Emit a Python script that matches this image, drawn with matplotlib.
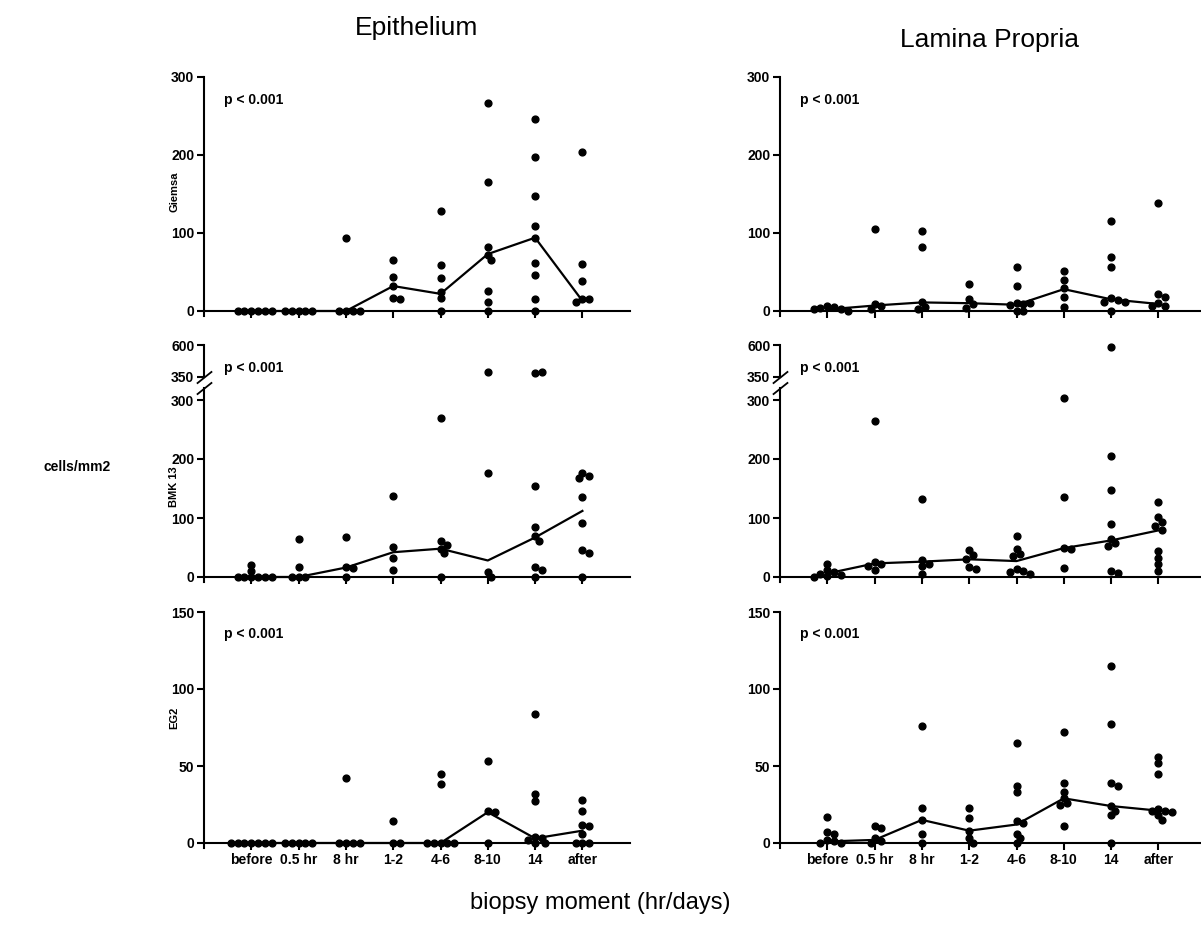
import numpy as np
import matplotlib
matplotlib.use('Agg')
import matplotlib.pyplot as plt

plt.rcParams['font.family'] = ['Liberation Sans', 'DejaVu Sans']

moments = ['before', '0.5 hr', '8 hr', '1-2', '4-6', '8-10', '14', 'after']

# cells/mm2 per biopsy, one list per moment
giemsa_epi = [[0, 0, 0, 0, 0, 0], [0, 0, 0, 0, 0], [94, 0, 0, 0, 0],
              [66, 43, 32, 17, 15], [128, 59, 42, 25, 17, 0],
              [267, 165, 82, 72, 65, 26, 11, 0],
              [246, 197, 148, 109, 94, 62, 46, 16, 0],
              [204, 60, 38, 16, 15, 12]]
giemsa_epi_line = [0, 0, 0, 32, 22, 73, 94, 13]

giemsa_lp = [[6, 5, 4, 3, 2, 0], [105, 9, 7, 2], [103, 82, 11, 5, 2],
             [34, 16, 9, 4], [57, 32, 10, 9, 8, 10, 0, 0],
             [51, 40, 29, 18, 5], [115, 69, 56, 17, 14, 12, 11, 0],
             [139, 22, 18, 10, 7, 6]]
giemsa_lp_line = [2, 7, 11, 10, 8, 28, 15, 9]

bmk_epi = [[21, 11, 0, 0, 0, 0, 0, 0], [65, 17, 0, 0, 0], [67, 17, 15, 0],
           [137, 51, 33, 12], [270, 61, 55, 48, 40, 0],
           [390, 177, 8, 0], [385, 387, 155, 84, 69, 61, 17, 12, 0],
           [177, 172, 168, 135, 91, 45, 40, 0]]
bmk_epi_line = [0, 0, 16, 42, 48, 28, 67, 112]

bmk_lp = [[22, 12, 8, 5, 3, 1, 0], [265, 25, 22, 18, 12], [133, 29, 22, 19, 5],
          [46, 37, 30, 17, 14], [69, 48, 39, 35, 14, 10, 8, 5],
          [305, 136, 50, 48, 16], [585, 205, 147, 90, 65, 57, 53, 10, 7],
          [127, 101, 93, 87, 80, 44, 33, 22, 10]]
bmk_lp_line = [6, 23, 26, 30, 27, 49, 62, 79]

eg2_epi = [[0, 0, 0, 0, 0, 0, 0], [0, 0, 0, 0, 0], [42, 0, 0, 0, 0],
           [14, 0, 0], [45, 38, 0, 0, 0, 0, 0], [53, 21, 20, 0],
           [84, 32, 27, 4, 3, 2, 0, 0], [28, 21, 12, 11, 6, 0, 0, 0]]
eg2_epi_line = [0, 0, 0, 0, 0, 20, 3, 8]

eg2_lp = [[17, 7, 6, 2, 1, 0, 0], [11, 10, 3, 1, 0], [76, 23, 15, 6, 0],
          [23, 16, 8, 3, 0], [65, 37, 33, 14, 13, 6, 3, 0],
          [72, 39, 33, 29, 26, 25, 11], [115, 77, 39, 37, 24, 21, 18, 0],
          [56, 52, 45, 22, 21, 21, 20, 18, 15]]
eg2_lp_line = [1, 2, 15, 8, 12, 29, 24, 21]


# broken axis for the BMK 13 row: 300 -> 350 squeezed, 350 -> 600 compressed
def fwd(v):
    return np.interp(v, [-100, 300, 350, 600, 2000], [-100, 300, 339, 393, 695])


def inv(t):
    return np.interp(t, [-100, 300, 339, 393, 695], [-100, 300, 350, 600, 2000])


W, H = 1201, 940
DX = 47.3
fig = plt.figure(figsize=(W / 100, H / 100), dpi=100)

# rows: (label, label y px, y0 pixel, px per unit, low, high, ticks, tick labels, p-text y)
rows = [
    ('Giemsa', 192, 311, 0.78, -6, 300, [0, 100, 200, 300], ['0', '100', '200', '300'], 270),
    ('BMK 13', 487, 577, 0.59, -8, 600, [0, 100, 200, 300, 350, 600],
     ['0', '100', '200', '300', '350', '600'], 420),
    ('EG2', 718, 843, 1.54, -3, 150, [0, 50, 100, 150], ['0', '50', '100', '150'], 136),
]
cols = [(204, 9.0), (780, 8.9)]
panels = [[giemsa_epi, giemsa_lp], [bmk_epi, bmk_lp], [eg2_epi, eg2_lp]]
lines = [[giemsa_epi_line, giemsa_lp_line], [bmk_epi_line, bmk_lp_line],
         [eg2_epi_line, eg2_lp_line]]


def swarm(vals, ppu, f, diam=6.2):
    # spread overlapping dots sideways (pixel space), returns offsets in x units
    ys = f(np.array(vals, float)) * ppu
    placed = []
    offs = []
    for y in ys:
        for k in [0, 1, -1, 2, -2, 3, -3, 4, -4, 5, -5, 6, -6]:
            x = k * diam * 0.55
            if all((x - px) ** 2 + (y - py) ** 2 >= (diam * 0.9) ** 2 for px, py in placed):
                break
        placed.append((x, y))
        offs.append(x / DX)
    return offs


for r, (name, ly, y0, ppu, lo, hi, ticks, tlabels, py) in enumerate(rows):
    f = fwd if r == 1 else (lambda v: np.asarray(v, float))
    bottom_px = y0 + (0 - f(lo)) * ppu
    top_px = y0 - f(hi) * ppu
    for c, (x0, xmax) in enumerate(cols):
        ax = fig.add_axes([x0 / W, 1 - bottom_px / H, xmax * DX / W, (bottom_px - top_px) / H])
        if r == 1:
            ax.set_yscale('function', functions=(fwd, inv))
        ax.set_xlim(0, xmax)
        ax.set_ylim(lo, hi)
        for s in ['top', 'right']:
            ax.spines[s].set_visible(False)
        ax.spines['bottom'].set_position(('data', 0))
        ax.spines['left'].set_linewidth(1.5)
        ax.spines['bottom'].set_linewidth(1.5)
        ax.set_xticks(range(1, 9))
        ax.set_xticklabels(moments if r == 2 else [])
        ax.set_yticks(ticks)
        ax.set_yticklabels(tlabels)
        ax.tick_params(direction='out', length=5, width=1.5, labelsize=10, pad=2)
        for lab in ax.get_xticklabels() + ax.get_yticklabels():
            lab.set_fontweight('bold')

        if r == 1:
            ax.spines['left'].set_bounds(lo, 325)
            ax.plot([0, 0], [350, 600], color='k', lw=1.5,
                    transform=ax.get_yaxis_transform(), clip_on=False)
            ax.plot([0, 0], [325, 350], ls='none', marker=[(-1, -0.8), (1, 0.8)],
                    ms=11, mew=1.3, color='k', transform=ax.get_yaxis_transform(),
                    clip_on=False)

        data = panels[r][c]
        ax.plot(range(1, 9), lines[r][c], color='k', lw=1.6, zorder=3)
        for i, vals in enumerate(data):
            offs = swarm(vals, ppu, f)
            ax.plot([i + 1 + o for o in offs], vals, 'o', color='k', ms=4.9,
                    clip_on=False, zorder=4)

        ax.text(0.42, py, 'p < 0.001', fontsize=10, fontweight='bold', va='center')

        if c == 0:
            fig.text(174 / W, 1 - ly / H, name, rotation=90,
                     fontsize=8, fontweight='bold', ha='center', va='center')

fig.text(417 / W, 1 - 28 / H, 'Epithelium', fontsize=19, ha='center', va='center')
fig.text(990 / W, 1 - 40 / H, 'Lamina Propria', fontsize=19, ha='center', va='center')
fig.text(77 / W, 1 - 467 / H, 'cells/mm2', fontsize=10, fontweight='bold',
         ha='center', va='center')
fig.text(600 / W, 1 - 903 / H, 'biopsy moment (hr/days)', fontsize=17,
         ha='center', va='center')

fig.savefig('out.png', dpi=100)
